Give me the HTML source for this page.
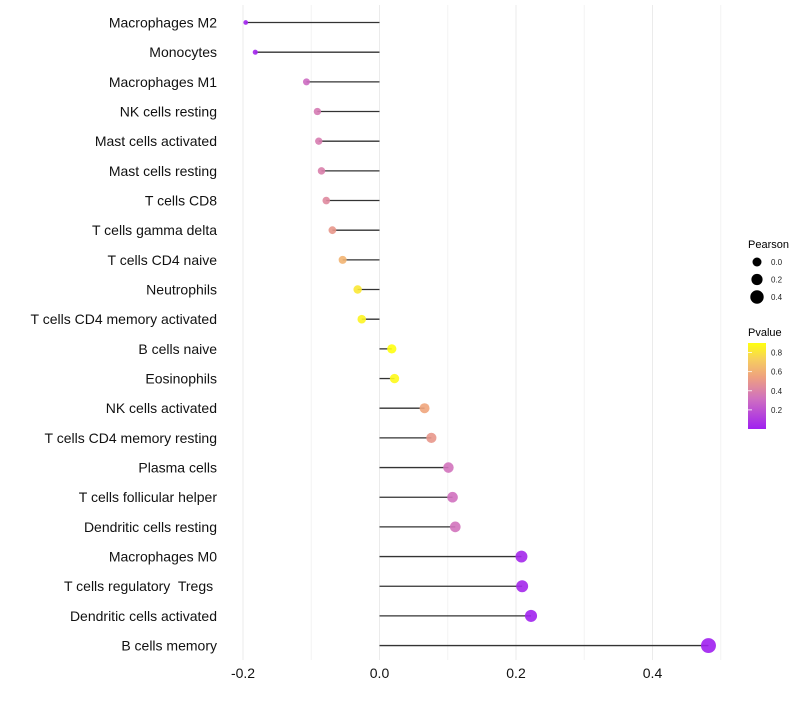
<!DOCTYPE html>
<html><head><meta charset="utf-8"><style>
body{margin:0;background:#fff;font-family:"Liberation Sans",sans-serif}
text{white-space:pre}
</style></head><body>
<svg id="chart" width="800" height="700" xmlns="http://www.w3.org/2000/svg" font-family="Liberation Sans, sans-serif">
<g id="grid"></g>
<g id="marks"></g>
<g id="labels"></g>
<g id="xticks"></g>
<g id="legend">
  <defs><linearGradient id="pg" x1="0" y1="1" x2="0" y2="0">
    <stop offset="0" stop-color="#a020f0"/><stop offset="0.35" stop-color="#cf70c0"/>
    <stop offset="0.6" stop-color="#eea080"/><stop offset="0.8" stop-color="#f6cc60"/>
    <stop offset="1" stop-color="#ffff10"/></linearGradient></defs>
  <text x="748" y="248" font-size="11">Pearson</text>
  <text x="748" y="336" font-size="11">Pvalue</text>
  <rect x="748" y="343" width="18" height="86" fill="url(#pg)"/>
</g>
</svg>
<script>
const categories=["Macrophages M2","Monocytes","Macrophages M1","NK cells resting","Mast cells activated","Mast cells resting","T cells CD8","T cells gamma delta","T cells CD4 naive","Neutrophils","T cells CD4 memory activated","B cells naive","Eosinophils","NK cells activated","T cells CD4 memory resting","Plasma cells","T cells follicular helper","Dendritic cells resting","Macrophages M0","T cells regulatory  Tregs ","Dendritic cells activated","B cells memory"];
const pearson=[-0.196,-0.182,-0.107,-0.091,-0.089,-0.085,-0.078,-0.069,-0.054,-0.032,-0.026,0.018,0.022,0.066,0.076,0.101,0.107,0.111,0.208,0.209,0.222,0.482];
const pvalues=[0.01,0.02,0.3,0.36,0.37,0.39,0.43,0.5,0.62,0.82,0.86,0.9,0.88,0.56,0.5,0.33,0.32,0.33,0.03,0.03,0.01,0.0];
const xTicks=[-0.2,0,0.2,0.4];
const xTickLabels=["-0.2","0.0","0.2","0.4"];
const minorTicks=[-0.1,0.1,0.3,0.5];
const sizeLegend=[0.0,0.2,0.4];
const pLegendTicks=[0.2,0.4,0.6,0.8];

const NS="http://www.w3.org/2000/svg";
const x=v=>379.5+v*682.5;
const y=i=>22.5+i*29.67;
const r=v=>Math.sqrt(Math.max(2.25,12.25+74.5*(v+0.107)));
const stops=[[0,[160,32,240]],[0.315,[207,112,192]],[0.54,[238,160,128]],[0.72,[246,204,96]],[0.9,[255,255,16]]];
function col(p){p=Math.max(0,Math.min(0.9,p));for(let k=1;k<stops.length;k++){if(p<=stops[k][0]){const a=stops[k-1],b=stops[k],t=(p-a[0])/(b[0]-a[0]);return 'rgb('+a[1].map((c,j)=>Math.round(c+(b[1][j]-c)*t)).join(',')+')';}}return 'rgb(255,255,16)';}
function mk(tag,attrs,parent){const e=document.createElementNS(NS,tag);for(const k in attrs)e.setAttribute(k,attrs[k]);document.getElementById(parent).appendChild(e);return e;}
xTicks.forEach((v,i)=>{
  const g=mk('line',{x1:x(v),x2:x(v),y1:5,y2:660,stroke:'#ebebeb','stroke-width':1},'grid');
  
  
  const t=mk('text',{x:x(v),y:678,'font-size':14,'text-anchor':'middle',fill:'#111'},'xticks');
  t.textContent=xTickLabels[i];
  
  
});
minorTicks.forEach(v=>{
  const g=mk('line',{x1:x(v),x2:x(v),y1:5,y2:660,stroke:'#f3f3f3','stroke-width':1},'grid');
  
  
});
categories.forEach((c,i)=>{
  const l=mk('line',{x1:x(0),x2:x(pearson[i]),y1:y(i),y2:y(i),stroke:'#333','stroke-width':1.3},'marks');
  
  
  const d=mk('circle',{cx:x(pearson[i]),cy:y(i),r:r(pearson[i]),fill:col(pvalues[i]),'fill-opacity':0.9},'marks');
  
  
  const t=mk('text',{x:217,y:y(i)+5,'font-size':14,'text-anchor':'end',fill:'#111'},'labels');
  t.textContent=c;
  
  
});
sizeLegend.forEach((v,i)=>{
  const cy=262+i*17.5;
  const d=mk('circle',{cx:757,cy:cy,r:4.5+i*1.1,fill:'#000'},'legend');
  
  
  const t=mk('text',{x:771,y:cy+3,'font-size':8,fill:'#222'},'legend');
  t.textContent=v.toFixed(1);
  
  
});
pLegendTicks.forEach(v=>{
  const cy=429-v/0.9*86;
  const l=mk('line',{x1:748,x2:752,y1:cy,y2:cy,stroke:'#fff','stroke-width':0.8},'legend');
  
  
  const t=mk('text',{x:771,y:cy+3,'font-size':8,fill:'#222'},'legend');
  t.textContent=v.toFixed(1);
  
  
});
</script>
</body></html>
